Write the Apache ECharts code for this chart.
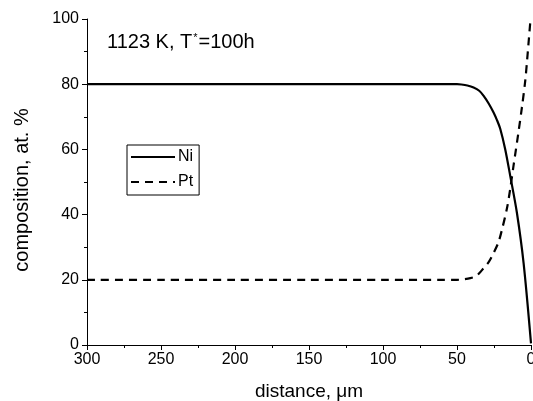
<!DOCTYPE html>
<html><head><meta charset="utf-8">
<script src="https://cdn.jsdelivr.net/npm/echarts@6/dist/echarts.min.js"></script>
<style>html,body{margin:0;padding:0;background:#fff}#c{width:533px;height:401px}</style>
</head><body><div id="c"></div>
<script>
var niDistance = [300, 250, 200, 150, 100, 60, 50, 47, 43, 38.8, 35, 32, 28.5, 25.3, 23, 20.7, 17.4, 14, 9.5, 5, 0];
var niValues   = [80, 80, 80, 80, 80, 80, 80, 79.9, 79.6, 79.0, 78, 76.4, 74, 71.3, 69, 66.2, 60, 51.8, 40.5, 25.1, 0.5];
var ptDistance = [300, 250, 200, 150, 100, 60, 50, 45, 41, 37.6, 35, 32, 28.5, 25.3, 22, 19.6, 16.2, 14, 11.8, 8.4, 6.1, 3.9, 2.7, 0.5];
var ptValues   = [20, 20, 20, 20, 20, 20, 20, 20.2, 20.5, 21, 22, 23.6, 25.5, 28.2, 31.5, 35.4, 42, 48, 55, 65.5, 73, 81, 87, 99];
var seriesNames = ['Ni', 'Pt'];
var annotation = '1123 K, T';

function pairs(xs, ys){ return xs.map(function(x,i){ return [x, ys[i]]; }); }

var chart = echarts.init(document.getElementById('c'));
var font = 'Liberation Sans, Arial, sans-serif';
chart.setOption({
  animation: false,
  backgroundColor: '#fff',
  grid: {left: 87, right: 2, top: 19, bottom: 56, containLabel: false, outerBoundsMode: 'none'},
  xAxis: {
    type: 'value', min: 0, max: 300, interval: 50, inverse: true,
    name: 'distance, \u03bcm', nameLocation: 'middle', nameGap: 37,
    nameTextStyle: {fontFamily: font, fontSize: 19, color: '#000'},
    axisLine: {onZero: false, lineStyle: {color: '#000', width: 1}},
    axisTick: {inside: false, length: 5, lineStyle: {color: '#000'}},
    minorTick: {show: true, splitNumber: 2, length: 3, lineStyle: {color: '#000'}},
    axisLabel: {fontFamily: font, fontSize: 16, color: '#000', margin: 7},
    splitLine: {show: false}
  },
  yAxis: {
    type: 'value', min: 0, max: 100, interval: 20, position: 'left',
    name: 'composition, at. %', nameLocation: 'middle', nameGap: 55,
    nameTextStyle: {fontFamily: font, fontSize: 20, color: '#000', padding: [0, 16, 0, 0]},
    axisLine: {show: true, onZero: false, lineStyle: {color: '#000', width: 1}},
    axisTick: {show: true, inside: false, length: 5, lineStyle: {color: '#000'}},
    minorTick: {show: true, splitNumber: 2, length: 3, lineStyle: {color: '#000'}},
    axisLabel: {fontFamily: font, fontSize: 16, color: '#000', margin: 8},
    splitLine: {show: false}
  },
  legend: {
    left: 127, top: 145, orient: 'vertical',
    data: seriesNames,
    itemWidth: 44, itemHeight: 16, itemGap: 9,
    padding: [4, 6, 5, 3],
    borderColor: '#000', borderWidth: 1,
    itemStyle: {opacity: 0},
    textStyle: {fontFamily: font, fontSize: 16, color: '#000', padding: [0,0,0,-2]}
  },
  graphic: [{
    type: 'text', left: 107, top: 32,
    style: {
      rich: {a: {fontFamily: font, fontSize: 20, fill: '#000'}, s: {fontFamily: font, fontSize: 11, fill: '#000', verticalAlign: 'top', padding: [0,1,10,1]}},
      text: '{a|' + annotation + '}{s|*}{a|=100h}'
    }
  }],
  series: [
    {name: seriesNames[0], type: 'line', symbol: 'none', smooth: 0.3,
     lineStyle: {color: '#000', width: 2.2, type: 'solid'}, itemStyle: {color: '#000'},
     data: pairs(niDistance, niValues)},
    {name: seriesNames[1], type: 'line', symbol: 'none', smooth: 0.3,
     lineStyle: {color: '#000', width: 2.2, type: [8, 6]}, itemStyle: {color: '#000'},
     data: pairs(ptDistance, ptValues)}
  ]
});
</script></body></html>
